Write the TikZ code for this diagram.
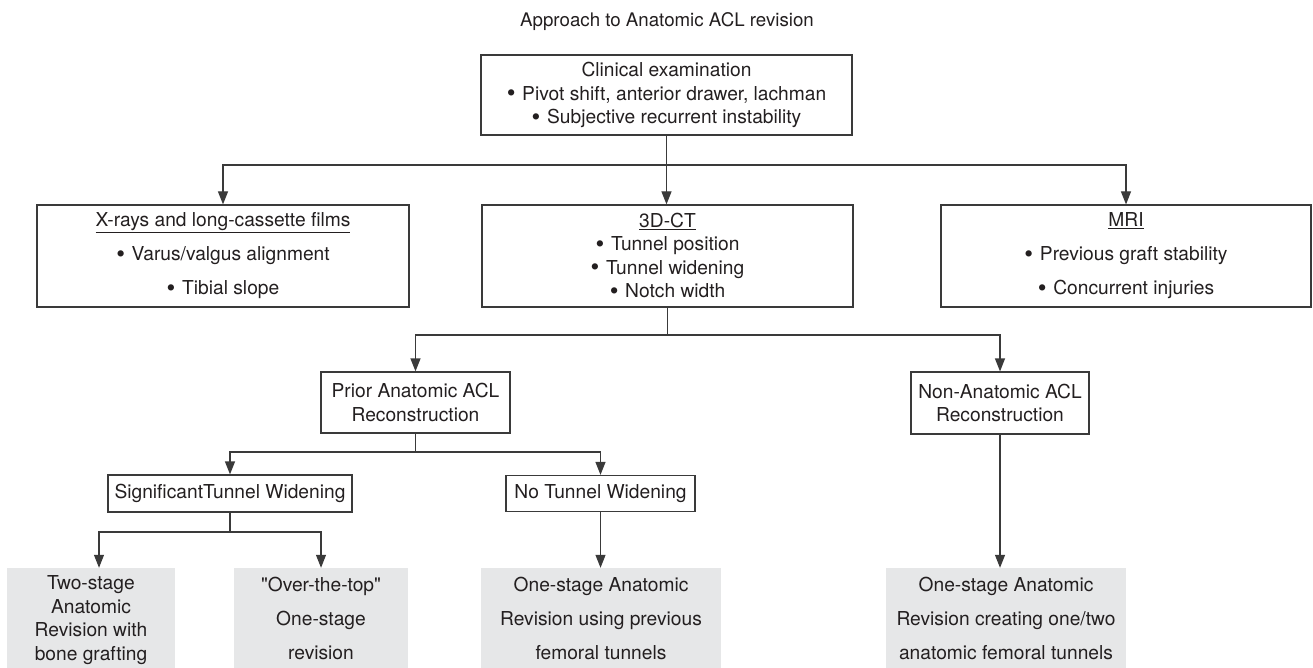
\documentclass[tikz,border=0pt]{standalone}
\usepackage{fontspec}
\newfontfamily\heros{TeX Gyre Heros}
\usetikzlibrary{arrows.meta}
\definecolor{inkline}{HTML}{3A3A3A}
\definecolor{inktext}{HTML}{231F20}
\definecolor{greyfill}{HTML}{E6E7E8}
\newcommand{\bul}{\raisebox{-1.6pt}{\fontsize{25}{0}\selectfont•}\hspace{0.35em}}

\begin{document}
\begin{tikzpicture}[x=1pt, y=-1pt,
    every node/.style={font=\heros\fontsize{19.2}{23.5}\selectfont, text=inktext, align=center, inner sep=0pt},
    box/.style={draw=inkline, line width=1.2pt},
    greybox/.style={fill=greyfill, text depth=-3pt},
    wide/.style={font=\heros\fontsize{19.2}{34}\selectfont},
    link/.style={draw=inkline, line width=1.2pt},
    arr/.style={link, -{Triangle[length=13pt, width=10pt]}}]
        \useasboundingbox (0,0) rectangle (1313,668);

        % Boxes
        \node[font=\heros\fontsize{18.7}{22}\selectfont] (title) at (667,22) {Approach to Anatomic ACL revision};
        \node[box, minimum width=371pt, minimum height=80pt] (clin) at (666.5,95)
            {Clinical examination\\ \bul Pivot shift, anterior drawer, lachman\\ \bul Subjective recurrent instability};
        \node[box, wide, minimum width=372pt, minimum height=102pt] (xray) at (223,256)
            {\underline{X-rays and long-cassette films}\\ \bul Varus/valgus alignment\\ \bul Tibial slope};
        \node[box, minimum width=371pt, minimum height=102pt] (ct) at (667.5,256)
            {\underline{3D-CT}\\ \bul Tunnel position\\ \bul Tunnel widening\\ \bul Notch width};
        \node[box, wide, minimum width=370pt, minimum height=102pt] (mri) at (1126,256)
            {\underline{MRI}\\ \bul Previous graft stability\\ \bul Concurrent injuries};
        \node[box, minimum width=189pt, minimum height=61pt] (prior) at (415.5,402.5)
            {Prior Anatomic ACL\\ Reconstruction};
        \node[box, minimum width=178pt, minimum height=62pt] (non) at (1000,403)
            {Non-Anatomic ACL\\ Reconstruction};
        \node[box, minimum width=244pt, minimum height=37pt] (sig) at (230,493.5)
            {SignificantTunnel Widening};
        \node[box, minimum width=189pt, minimum height=36pt] (notw) at (600.5,493.5)
            {No Tunnel Widening};
        \node[greybox, minimum width=168pt, minimum height=100pt] (two) at (91,618)
            {Two-stage\\ Anatomic\\ Revision with\\ bone grafting};
        \node[greybox, wide, minimum width=174pt, minimum height=100pt] (otop) at (321,618)
            {"Over-the-top"\\ One-stage\\ revision};
        \node[greybox, wide, minimum width=240pt, minimum height=100pt] (onep) at (601,618)
            {One-stage Anatomic\\ Revision using previous\\ femoral tunnels};
        \node[greybox, wide, minimum width=240pt, minimum height=100pt] (onec) at (1006,618)
            {One-stage Anatomic\\ Revision creating one/two\\ anatomic femoral tunnels};

        % Junctions
        \coordinate (j1) at (clin.south |- 0,165);
        \coordinate (j2) at (ct.south |- 0,335);
        \coordinate (j3) at (prior.south |- 0,452);
        \coordinate (j4) at (sig.south |- 0,532);

        % Arrows
        \draw[link] (clin.south) -- (j1);
        \draw[arr] (j1) -| (xray.north);
        \draw[arr] (j1) -- (j1 |- ct.north);
        \draw[arr] (j1) -| (mri.north);
        \draw[link] (ct.south) -- (j2);
        \draw[arr] (j2) -| (prior.north);
        \draw[arr] (j2) -| (non.north);
        \draw[link] (prior.south) -- (j3);
        \draw[arr] (j3) -| (sig.north);
        \draw[arr] (j3) -| (notw.north);
        \draw[link] (sig.south) -- (j4);
        \draw[arr] (j4) -| ([xshift=8pt]two.north);
        \draw[arr] (j4) -| (otop.north);
        \draw[arr] (notw.south) -- (notw.south |- onep.north);
        \draw[arr] (non.south) -- (non.south |- onec.north);
    \end{tikzpicture}
\end{document}
